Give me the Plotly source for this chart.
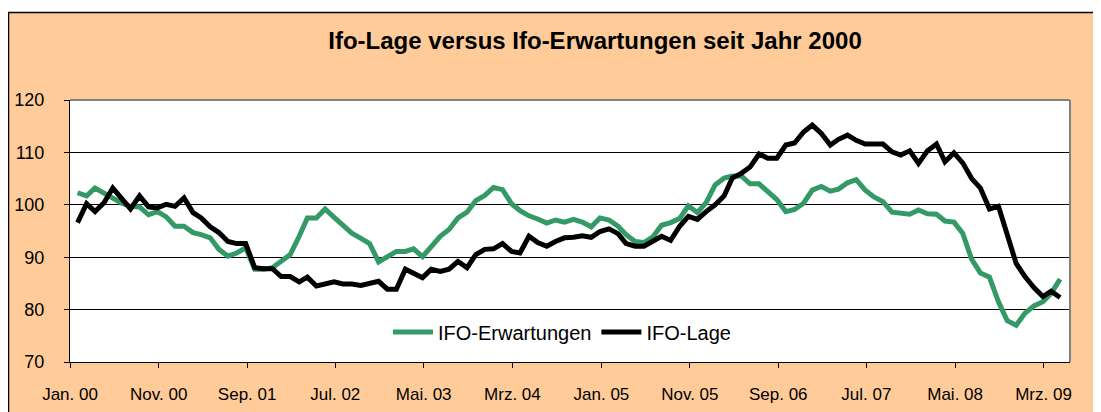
import pandas as pd
import plotly.graph_objects as go

# ---------------- data ----------------
months = pd.date_range("2000-01-01", periods=112, freq="MS") + pd.Timedelta(days=26)

ifo_lage = [96.6, 100.2, 98.7, 100.4, 103.2, 101.3, 99.2, 101.7, 99.6, 99.4,
            100.1, 99.7, 101.3, 98.5, 97.5, 95.8, 94.7, 93.0, 92.6, 92.6,
            88.0, 87.8, 87.8, 86.3, 86.3, 85.3, 86.2, 84.5, 84.9, 85.3,
            84.9, 84.9, 84.6, 85.0, 85.4, 83.9, 83.9, 87.7, 87.0, 86.1,
            87.7, 87.3, 87.7, 89.2, 88.0, 90.5, 91.5, 91.6, 92.6, 91.1,
            90.8, 94.0, 92.8, 92.1, 93.0, 93.7, 93.8, 94.1, 93.8, 94.9,
            95.4, 94.5, 92.6, 92.1, 92.1, 93.0, 94.0, 93.2, 95.9, 97.8,
            97.2, 98.7, 100.0, 101.7, 105.1, 106.0, 107.2, 109.7, 108.9, 108.9,
            111.4, 111.8, 113.9, 115.2, 113.6, 111.4, 112.5, 113.3, 112.3, 111.6,
            111.6, 111.6, 110.1, 109.5, 110.3, 107.9, 110.3, 111.6, 108.2, 109.9,
            108.0, 105.0, 103.2, 99.2, 99.7, 94.5, 88.8, 86.3, 84.2, 82.5,
            83.5, 82.3]

ifo_erwartungen = [102.3, 101.7, 103.2, 102.2, 101.1, 100.3, 99.7, 99.6, 98.1, 98.7,
                   97.7, 95.9, 95.9, 94.7, 94.3, 93.7, 91.5, 90.2, 90.8, 91.8,
                   87.7, 87.7, 88.0, 89.1, 90.5, 94.0, 97.5, 97.5, 99.2, 97.6,
                   96.0, 94.6, 93.6, 92.6, 89.1, 90.2, 91.1, 91.1, 91.6, 90.1,
                   92.0, 94.0, 95.3, 97.5, 98.6, 100.8, 101.8, 103.3, 102.9, 100.2,
                   98.9, 97.9, 97.3, 96.5, 97.1, 96.7, 97.2, 96.7, 95.8, 97.5,
                   97.1, 95.9, 94.3, 93.0, 92.8, 93.9, 96.1, 96.6, 97.4, 99.8,
                   98.5, 100.4, 103.8, 105.1, 105.5, 105.5, 104.0, 104.0, 102.5, 101.0,
                   98.7, 99.1, 100.3, 102.8, 103.5, 102.6, 103.0, 104.2, 104.8, 102.8,
                   101.5, 100.6, 98.6, 98.5, 98.2, 99.0, 98.3, 98.2, 96.9, 96.7,
                   94.6, 89.6, 87.0, 86.2, 81.5, 77.9, 77.0, 79.3, 80.7, 81.5,
                   83.1, 85.8]

tick_dates = ["2000-01-01", "2000-11-01", "2001-09-01", "2002-07-01", "2003-05-01",
              "2004-03-01", "2005-01-01", "2005-11-01", "2006-09-01", "2007-07-01",
              "2008-05-01", "2009-03-01"]
tick_labels = ["Jan. 00", "Nov. 00", "Sep. 01", "Jul. 02", "Mai. 03", "Mrz. 04",
               "Jan. 05", "Nov. 05", "Sep. 06", "Jul. 07", "Mai. 08", "Mrz. 09"]

# ---------------- layout helpers ----------------
# the page body has an 8px margin, so the figure starts at page (8, 8)
OFF = 8
W, H = 1093, 404
ML, MR, MT, MB = 62, 31, 92, 50
PW, PH = W - ML - MR, H - MT - MB
FONT = "Liberation Sans, Arial, sans-serif"
PEACH = "#FFCC99"


def px(x):  # page x -> paper
    return (x - OFF - ML) / PW


def py(y):  # page y -> paper
    return (OFF + H - MB - y) / PH


fig = go.Figure()
fig.add_trace(go.Scatter(x=months, y=ifo_erwartungen, mode="lines", name="IFO-Erwartungen",
                         line=dict(color="#339966", width=5)))
fig.add_trace(go.Scatter(x=months, y=ifo_lage, mode="lines", name="IFO-Lage",
                         line=dict(color="#000000", width=5)))

shapes = [
    # white strip above the chart frame
    dict(type="rect", xref="paper", yref="paper", x0=px(0), x1=px(1200), y0=py(12), y1=py(0),
         fillcolor="white", line=dict(width=0), layer="below"),
    # frame lines (top, left)
    dict(type="line", xref="paper", yref="paper", x0=px(8), x1=px(1200), y0=py(12.5), y1=py(12.5),
         line=dict(color="#000000", width=1.5)),
    dict(type="line", xref="paper", yref="paper", x0=px(8.5), x1=px(8.5), y0=py(12), y1=py(420),
         line=dict(color="#000000", width=1.5)),
    # plot area border (grey top / right)
    dict(type="line", xref="paper", yref="paper", x0=0, x1=1, y0=1, y1=1,
         line=dict(color="#808080", width=2), layer="above"),
    dict(type="line", xref="paper", yref="paper", x0=1, x1=1, y0=0, y1=1,
         line=dict(color="#808080", width=2), layer="above"),
]

fig.update_layout(
    width=W, height=H,
    margin=dict(l=ML, r=MR, t=MT, b=MB, autoexpand=False),
    paper_bgcolor=PEACH, plot_bgcolor="white",
    font=dict(family=FONT, color="black", size=16),
    title=dict(text="<b>Ifo-Lage versus Ifo-Erwartungen seit Jahr 2000</b>",
               x=(595 - OFF) / W, xanchor="center", y=1 - (41 - OFF) / H, yanchor="middle",
               font=dict(family=FONT, size=24, color="black")),
    showlegend=True,
    legend=dict(orientation="h", x=px(562), y=py(332), xanchor="center", yanchor="middle",
                bgcolor="rgba(0,0,0,0)", font=dict(family=FONT, size=20, color="black"),
                itemwidth=40, tracegroupgap=0),
    shapes=shapes,
    xaxis=dict(type="date", range=["2000-01-01", "2009-05-31"], automargin=False,
               tickmode="array", tickvals=tick_dates, ticktext=tick_labels,
               showgrid=False, zeroline=False,
               showline=True, linecolor="black", linewidth=1,
               ticks="outside", ticklen=5, tickcolor="black",
               ticklabelstandoff=12,
               tickfont=dict(family=FONT, size=17, color="black")),
    yaxis=dict(range=[70, 120], tickmode="array", tickvals=[70, 80, 90, 100, 110, 120],
               automargin=False,
               showgrid=True, gridcolor="#000000", gridwidth=1, zeroline=False,
               showline=True, linecolor="black", linewidth=1,
               ticks="outside", ticklen=5, tickcolor="black",
               ticklabelstandoff=16,
               tickfont=dict(family=FONT, size=18, color="black")),
)

fig.write_html("out.html")
